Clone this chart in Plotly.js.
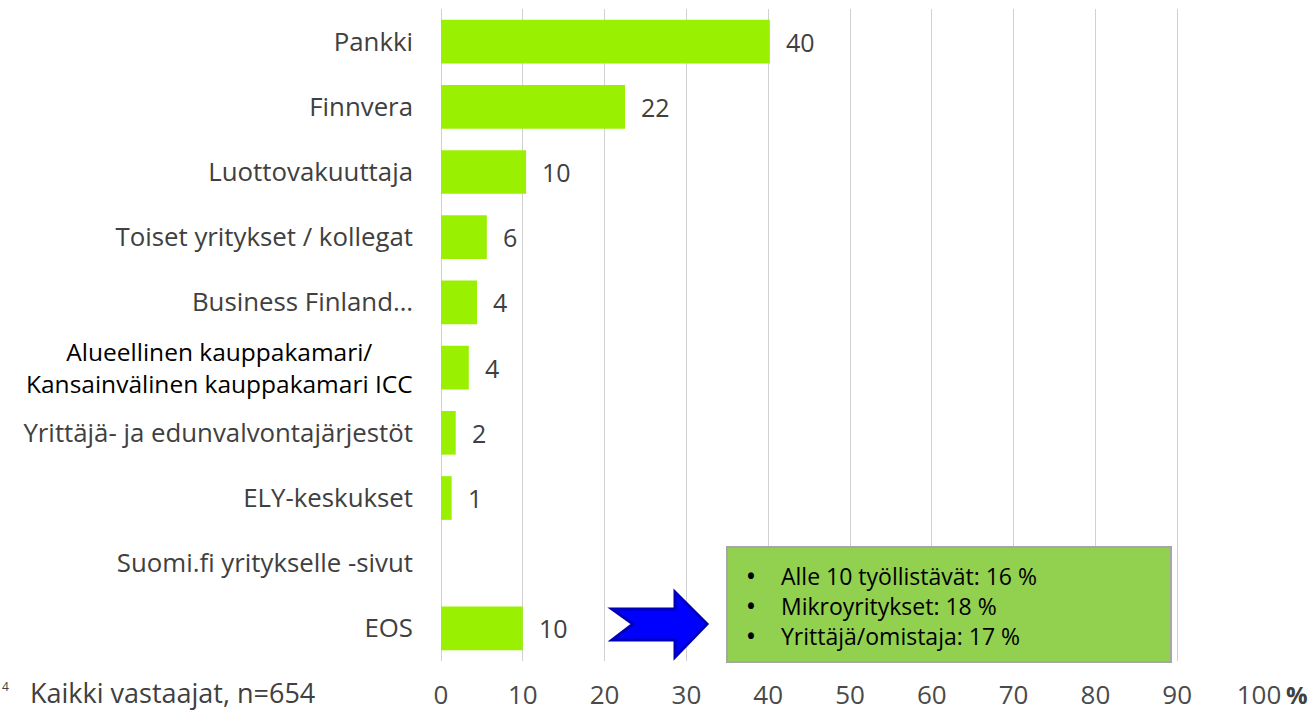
<!DOCTYPE html>
<html>
<head>
<meta charset="utf-8">
<script src="https://cdn.plot.ly/plotly-3.0.1.min.js"></script>
<style>html,body{margin:0;padding:0;background:#fff;}#chart{width:1310px;height:711px;}</style>
</head>
<body>
<div id="chart"></div>
<script>
// ---- data ----
const categories = ["Pankki","Finnvera","Luottovakuuttaja","Toiset yritykset / kollegat","Business Finland…","Alueellinen kauppakamari/<br>Kansainvälinen kauppakamari ICC","Yrittäjä- ja edunvalvontajärjestöt","ELY-keskukset","Suomi.fi yritykselle -sivut","EOS"];
const values = [40.2, 22.5, 10.4, 5.6, 4.4, 3.4, 1.8, 1.3, null, 10.0];
const valueLabels = ["40","22","10","6","4","4","2","1","","10"];
const tickVals = [0,10,20,30,40,50,60,70,80,90,100];
const tickLabels = ["0","10","20","30","40","50","60","70","80","90","100"];
const boxBullets = ["Alle 10 työllistävät: 16 %","Mikroyritykset: 18 %","Yrittäjä/omistaja: 17 %"];
const footnote = "Kaikki vastaajat, n=654";
const specialLabel = categories[5];

// ---- layout geometry ----
const W = 1310, H = 711, L = 441, R = 51, T = 9, B = 50;
const pw = W - L - R, ph = H - T - B;
const px = x => (x - L) / pw;
const py = y => (H - B - y) / ph;
const FONT = "Open Sans, sans-serif";

const trace = {
  type: "bar",
  orientation: "h",
  y: categories,
  x: values,
  marker: {color: "#99F000"},
  hoverinfo: "none",
  cliponaxis: false
};

const annotations = [];
categories.forEach((c, i) => {
  if (values[i] != null && valueLabels[i] !== "") {
    annotations.push({x: values[i], y: c, xref: "x", yref: "y", text: valueLabels[i],
      showarrow: false, xanchor: "left", xshift: 14, font: {family: FONT, size: 25, color: "#404040"}});
  }
});
// special centered black label
annotations.push({x: px(219), y: specialLabel, xref: "paper", yref: "y", text: specialLabel,
  showarrow: false, xanchor: "center", align: "center", font: {family: FONT, size: 24.5, color: "#000000"}});
// percent sign after 100
annotations.push({x: px(1284), y: py(694), xref: "paper", yref: "paper", text: "<b>%</b>", showarrow: false,
  xanchor: "left", yanchor: "middle", font: {family: FONT, size: 24, color: "#404040"}});
// footnote
annotations.push({x: px(28), y: py(692), xref: "paper", yref: "paper", text: footnote, showarrow: false,
  xanchor: "left", yanchor: "middle", font: {family: FONT, size: 27, color: "#404040"}});
annotations.push({x: px(0), y: py(686), xref: "paper", yref: "paper", text: "4", showarrow: false,
  xanchor: "left", yanchor: "middle", font: {family: FONT, size: 12, color: "#404040"}});
// box text
const lineY = [576, 606, 636];
boxBullets.forEach((t, i) => {
  annotations.push({x: px(745), y: py(lineY[i]), xref: "paper", yref: "paper", text: "<b>•</b>", showarrow: false,
    xanchor: "left", yanchor: "middle", font: {family: FONT, size: 21, color: "#000000"}});
  annotations.push({x: px(779), y: py(lineY[i]), xref: "paper", yref: "paper", text: t, showarrow: false,
    xanchor: "left", yanchor: "middle", font: {family: FONT, size: 23, color: "#000000"}});
});

const arrowPts = [[612,609],[675,609],[675,592],[707,624],[675,657],[675,640],[612,640],[633,624]];
const arrowPath = "M" + arrowPts.map(p => px(p[0]).toFixed(5) + "," + py(p[1]).toFixed(5)).join(" L") + " Z";

const shapes = [
  {type: "rect", xref: "paper", yref: "paper", x0: px(727), x1: px(1171), y0: py(662), y1: py(547),
   fillcolor: "#92D050", line: {color: "#A6A6A6", width: 2}, layer: "above"},
  {type: "path", xref: "paper", yref: "paper", path: arrowPath,
   fillcolor: "#0000FF", line: {color: "#0000B8", width: 3}, layer: "above"}
];

const layout = {
  width: W, height: H,
  margin: {l: L, r: R, t: T, b: B, pad: 0},
  paper_bgcolor: "#ffffff", plot_bgcolor: "#ffffff",
  showlegend: false,
  bargap: 0.33,
  font: {family: FONT, color: "#404040"},
  xaxis: {
    range: [0, 100], tickvals: tickVals, ticktext: tickLabels, showgrid: true, gridcolor: "#D0D0D0", gridwidth: 1,
    zeroline: true, zerolinecolor: "#D0D0D0", zerolinewidth: 1, showline: false, ticks: "",
    tickfont: {family: FONT, size: 26, color: "#4a4a4a"}, ticklabelstandoff: 16, fixedrange: true
  },
  yaxis: {
    type: "category", autorange: "reversed", showgrid: false, zeroline: false, showline: false, ticks: "",
    tickvals: categories, ticktext: categories.map(c => c === specialLabel ? "" : c),
    tickfont: {family: FONT, size: 25.8, color: "#404040"}, ticklabelstandoff: 27, fixedrange: true
  },
  annotations: annotations,
  shapes: shapes
};

Plotly.newPlot("chart", [trace], layout, {displayModeBar: false, staticPlot: true});
</script>
</body>
</html>
